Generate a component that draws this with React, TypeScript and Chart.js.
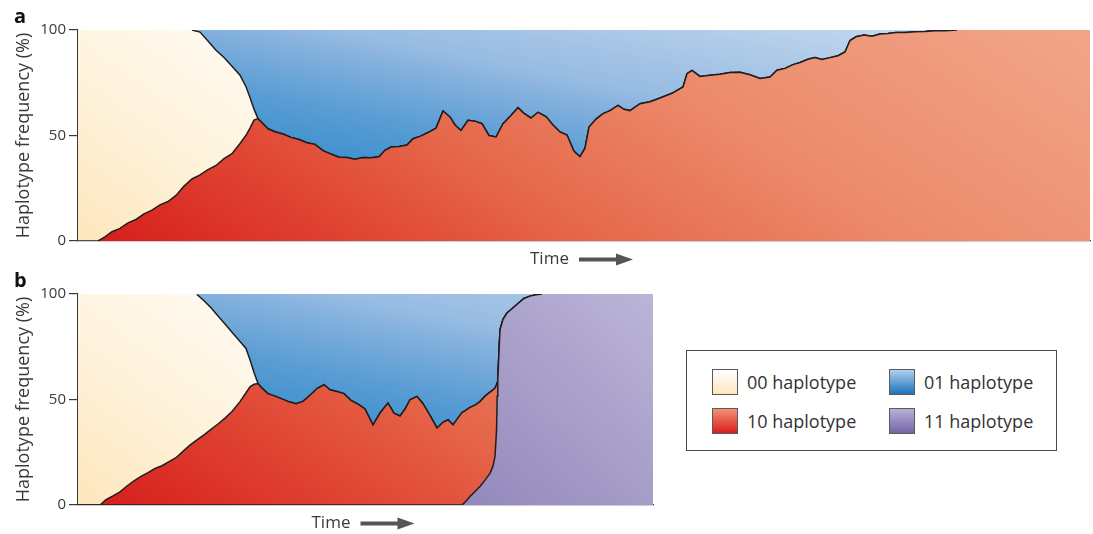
import React, { useEffect, useRef } from 'react';
import { Chart, registerables } from 'chart.js';

Chart.register(...registerables);

const FONT = "'Open Sans', 'DejaVu Sans', sans-serif";
const TEXT = '#3a3a3a';
const LINE = '#1e1e1e';
const AXIS = '#3a3a3a';

const yTicks = [0, 50, 100];
const yTitle = 'Haplotype frequency (%)';
const xTitle = 'Time';

// ---------- panel a ----------
const timeA = [
  0, 12, 20, 27, 34, 42, 50, 58, 66, 74,
  82, 90, 98, 106, 114, 122, 130, 138, 146, 154,
  162, 168, 172, 176, 180, 184, 190, 197, 205, 213,
  221, 229, 237, 245, 253, 261, 269, 277, 285, 293,
  301, 307, 313, 321, 329, 335, 342, 350, 358, 365,
  372, 377, 383, 390, 397, 404, 411, 418, 425, 432,
  440, 446, 453, 460, 468, 475, 482, 489, 496, 502,
  507, 511, 518, 525, 532, 540, 546, 552, 562, 572,
  582, 594, 605, 609, 614, 622, 632, 642, 652, 662,
  672, 682, 692, 699, 707, 715, 722, 730, 737, 744,
  752, 760, 767, 772, 778, 786, 794, 802, 810, 818,
  827, 837, 847, 857, 867, 879, 902, 932, 962, 1012,
];
const a10 = [
  0, 0, 0, 2.0, 4.4, 6.0, 8.6, 10.2, 12.9, 14.6,
  17.1, 18.7, 21.6, 26.0, 29.4, 31.3, 33.8, 35.8, 39.0, 41.4,
  46.2, 50.1, 53.5, 57.3, 58.0, 56.0, 53.2, 51.8, 50.7, 49.1,
  48.1, 46.6, 45.8, 42.8, 41.2, 39.7, 39.6, 38.8, 39.6, 39.4,
  39.9, 43.0, 44.5, 44.8, 45.5, 48.5, 49.6, 51.4, 53.5, 61.6,
  58.8, 55.0, 52.4, 57.2, 56.8, 55.6, 50.0, 49.3, 55.6, 59.0,
  63.2, 60.5, 58.3, 61.0, 59.0, 55.0, 51.7, 50.2, 42.5, 40.0,
  44.0, 54.0, 57.8, 60.4, 61.8, 64.3, 62.4, 61.8, 65.1, 66.0,
  67.8, 70.0, 73.0, 79.3, 80.9, 78.0, 78.6, 79.0, 79.8, 80.0,
  78.8, 77.0, 77.7, 80.9, 81.8, 83.6, 84.6, 86.1, 86.9, 86.0,
  86.9, 87.8, 89.6, 95.0, 96.8, 97.6, 97.1, 98.1, 98.3, 98.8,
  98.8, 99.2, 99.3, 99.7, 99.7, 100, 100, 100, 100, 100,
];
const a00 = [
  100, 100, 100, 98.0, 95.6, 94.0, 91.4, 89.8, 87.1, 85.4,
  82.9, 81.3, 78.4, 74.0, 70.6, 67.7, 61.0, 54.6, 48.0, 41.4,
  32.4, 23.0, 14.5, 5.2, 0, 0, 0, 0, 0, 0,
  0, 0, 0, 0, 0, 0, 0, 0, 0, 0,
  0, 0, 0, 0, 0, 0, 0, 0, 0, 0,
  0, 0, 0, 0, 0, 0, 0, 0, 0, 0,
  0, 0, 0, 0, 0, 0, 0, 0, 0, 0,
  0, 0, 0, 0, 0, 0, 0, 0, 0, 0,
  0, 0, 0, 0, 0, 0, 0, 0, 0, 0,
  0, 0, 0, 0, 0, 0, 0, 0, 0, 0,
  0, 0, 0, 0, 0, 0, 0, 0, 0, 0,
  0, 0, 0, 0, 0, 0, 0, 0, 0, 0,
];
const a01 = [
  0, 0, 0, 0, 0, 0, 0, 0, 0, 0,
  0, 0, 0, 0, 0, 1.0, 5.2, 9.6, 13.0, 17.2,
  21.4, 26.9, 32.0, 37.5, 42.0, 44.0, 46.8, 48.2, 49.3, 50.9,
  51.9, 53.4, 54.2, 57.2, 58.8, 60.3, 60.4, 61.2, 60.4, 60.6,
  60.1, 57.0, 55.5, 55.2, 54.5, 51.5, 50.4, 48.6, 46.5, 38.4,
  41.2, 45.0, 47.6, 42.8, 43.2, 44.4, 50.0, 50.7, 44.4, 41.0,
  36.8, 39.5, 41.7, 39.0, 41.0, 45.0, 48.3, 49.8, 57.5, 60.0,
  56.0, 46.0, 42.2, 39.6, 38.2, 35.7, 37.6, 38.2, 34.9, 34.0,
  32.2, 30.0, 27.0, 20.7, 19.1, 22.0, 21.4, 21.0, 20.2, 20.0,
  21.2, 23.0, 22.3, 19.1, 18.2, 16.4, 15.4, 13.9, 13.1, 14.0,
  13.1, 12.2, 10.4, 5.0, 3.2, 2.4, 2.9, 1.9, 1.7, 1.2,
  1.2, 0.8, 0.7, 0.3, 0.3, 0, 0, 0, 0, 0,
];

// ---------- panel b ----------
const timeB = [
  0, 12, 22, 28, 35, 42, 49, 56, 63, 70,
  77, 84, 91, 98, 105, 112, 119, 126, 133, 140,
  147, 154, 162, 168, 172, 176, 180, 184, 190, 197,
  204, 211, 218, 225, 232, 239, 246, 252, 259, 266,
  273, 280, 287, 295, 302, 310, 316, 322, 327, 332,
  339, 345, 352, 359, 365, 370, 375, 380, 384, 388,
  392, 397, 402, 407, 412, 415, 417, 418.5, 419.2, 419.8,
  420.5, 422, 425, 429, 434, 440, 446, 452, 458, 464,
  482, 522, 575,
];
const b11 = [
  0, 0, 0, 0, 0, 0, 0, 0, 0, 0,
  0, 0, 0, 0, 0, 0, 0, 0, 0, 0,
  0, 0, 0, 0, 0, 0, 0, 0, 0, 0,
  0, 0, 0, 0, 0, 0, 0, 0, 0, 0,
  0, 0, 0, 0, 0, 0, 0, 0, 0, 0,
  0, 0, 0, 0, 0, 0, 0, 0, 0, 1.8,
  4.0, 6.4, 8.8, 11.8, 15.0, 18.5, 23.0, 35.0, 51.5, 60.0,
  67, 83, 88, 91, 93, 95.5, 97.9, 99.0, 99.6, 100,
  100, 100, 100,
];
const b10 = [
  0, 0, 0, 2.5, 4.3, 6.2, 9.0, 11.4, 13.6, 15.3,
  17.3, 18.6, 20.6, 22.4, 25.4, 28.4, 30.9, 33.2, 35.8, 38.4,
  41.2, 44.3, 49.0, 53.2, 56.0, 57.2, 57.6, 55.4, 52.8, 51.6,
  50.3, 48.9, 48.0, 49.1, 52.0, 55.2, 57.0, 54.6, 53.8, 52.8,
  49.6, 47.8, 45.5, 38.0, 43.6, 48.3, 43.5, 42.2, 45.5, 49.9,
  51.5, 48.0, 42.5, 36.5, 39.2, 40.4, 38.0, 41.3, 43.8, 43.2,
  42.3, 40.9, 40.2, 39.8, 38.5, 36.1, 32.4, 22.0, 6.5, 0,
  0, 0, 0, 0, 0, 0, 0, 0, 0, 0,
  0, 0, 0,
];
const b00 = [
  100, 100, 100, 97.5, 95.7, 93.8, 91.0, 88.6, 86.4, 84.7,
  82.7, 81.4, 79.4, 77.6, 74.6, 71.6, 68.9, 63.6, 57.7, 51.2,
  44.6, 37.6, 28.5, 21.0, 12.8, 5.6, 0, 0, 0, 0,
  0, 0, 0, 0, 0, 0, 0, 0, 0, 0,
  0, 0, 0, 0, 0, 0, 0, 0, 0, 0,
  0, 0, 0, 0, 0, 0, 0, 0, 0, 0,
  0, 0, 0, 0, 0, 0, 0, 0, 0, 0,
  0, 0, 0, 0, 0, 0, 0, 0, 0, 0,
  0, 0, 0,
];
const b01 = [
  0, 0, 0, 0, 0, 0, 0, 0, 0, 0,
  0, 0, 0, 0, 0, 0, 0.2, 3.2, 6.5, 10.4,
  14.2, 18.1, 22.5, 25.8, 31.2, 37.2, 42.4, 44.6, 47.2, 48.4,
  49.7, 51.1, 52.0, 50.9, 48.0, 44.8, 43.0, 45.4, 46.2, 47.2,
  50.4, 52.2, 54.5, 62.0, 56.4, 51.7, 56.5, 57.8, 54.5, 50.1,
  48.5, 52.0, 57.5, 63.5, 60.8, 59.6, 62.0, 58.7, 56.2, 55.0,
  53.7, 52.7, 51.0, 48.4, 46.5, 45.4, 44.6, 43.0, 42.0, 40.0,
  33, 17, 12, 9, 7, 4.5, 2.1, 1.0, 0.4, 0,
  0, 0, 0,
];

const legendItems = [
  { label: '00 haplotype', swatch: 'linear-gradient(180deg, #ffffff 0%, #fde6bb 100%)' },
  { label: '10 haplotype', swatch: 'linear-gradient(180deg, #f29076 0%, #d81f1d 100%)' },
  { label: '01 haplotype', swatch: 'linear-gradient(180deg, #b0cdee 0%, #1c74ba 100%)' },
  { label: '11 haplotype', swatch: 'linear-gradient(180deg, #b9b0d7 0%, #7464a6 100%)' },
];

// ---------- gradients ----------
type Stops = [number, string][];
function gradient(x0: number, y0: number, x1: number, y1: number, stops: Stops) {
  return (ctx: any) => {
    const chart = ctx.chart;
    const ca = chart.chartArea;
    if (!ca) return stops[0][1];
    const g = chart.ctx.createLinearGradient(ca.left + x0, ca.bottom + y0, ca.left + x1, ca.bottom + y1);
    stops.forEach(([o, c]) => g.addColorStop(o, c));
    return g;
  };
}
const creamFill = gradient(0, 0, 150, -211, [[0, '#fde6bc'], [0.5, '#fef2da'], [1, '#fffaf1']]);
const redFill = gradient(0, 0, 400, -600, [
  [0, '#d51c1c'], [0.1, '#db2e25'], [0.25, '#e14a36'], [0.4, '#e6684b'], [0.64, '#ec8a6b'], [0.8, '#ef9678'], [1, '#f1a487'],
]);
const blueFill = gradient(252, -71, 312, -371, [
  [0, '#3a8ecc'], [0.2, '#5a9dd4'], [0.4, '#8ab4df'], [0.45, '#97bce2'], [0.6, '#a8c6e7'], [0.8, '#c0d6ee'], [1, '#cfe0f2'],
]);
const purpleFill = gradient(380, 0, 575, -211, [[0, '#9387bb'], [1, '#bcb5d8']]);

const edgeColor = (ctx: any) => {
  const top = ctx.chart.chartArea.top;
  return ctx.p0.y <= top + 0.6 && ctx.p1.y <= top + 0.6 ? 'rgba(0,0,0,0)' : LINE;
};

function series(label: string, time: number[], values: number[], fill: any, bg: any, edge: boolean) {
  return {
    label,
    data: time.map((t, i) => ({ x: t, y: values[i] })),
    fill,
    backgroundColor: bg,
    borderColor: LINE,
    borderWidth: edge ? 1.5 : 0,
    pointRadius: 0,
    pointHoverRadius: 0,
    tension: 0,
    segment: { borderColor: edgeColor },
  };
}

function decor(panel: string, labelY: number) {
  return {
    id: 'decor' + panel,
    afterDraw(chart: any) {
      const { ctx, chartArea: ca } = chart;
      ctx.save();
      ctx.fillStyle = '#111';
      ctx.font = `bold 20px ${FONT}`;
      ctx.textBaseline = 'alphabetic';
      ctx.textAlign = 'left';
      ctx.fillText(panel, 14, labelY);
      const cx = (ca.left + ca.right) / 2;
      const ty = ca.bottom + 18.5;
      ctx.font = `17px ${FONT}`;
      ctx.fillStyle = TEXT;
      ctx.textBaseline = 'middle';
      ctx.fillText(xTitle, cx - 54, ty);
      ctx.fillStyle = '#555';
      ctx.fillRect(cx - 5, ty - 2, 40, 4);
      ctx.beginPath();
      ctx.moveTo(cx + 32, ty - 6);
      ctx.lineTo(cx + 49, ty);
      ctx.lineTo(cx + 32, ty + 6);
      ctx.closePath();
      ctx.fill();
      ctx.restore();
    },
  };
}

function makeOptions(xMax: number, padding: any) {
  return {
    responsive: false,
    animation: false as const,
    events: [],
    layout: { padding },
    plugins: { legend: { display: false }, tooltip: { enabled: false } },
    scales: {
      x: {
        type: 'linear' as const,
        min: 0,
        max: xMax,
        ticks: { display: false },
        grid: { display: true, drawOnChartArea: false, drawTicks: false },
        border: { display: true, color: AXIS, width: 1.2 },
      },
      y: {
        stacked: true,
        min: 0,
        max: 100,
        afterBuildTicks: (s: any) => {
          s.ticks = yTicks.map((v) => ({ value: v }));
        },
        afterFit: (s: any) => {
          s.width = 78;
        },
        ticks: { color: TEXT, font: { family: FONT, size: 15 }, padding: 3 },
        grid: { drawOnChartArea: false, tickLength: 9, color: AXIS, lineWidth: 1.2 },
        border: { color: AXIS, width: 1.2 },
        title: {
          display: true,
          text: yTitle,
          color: TEXT,
          font: { family: FONT, size: 18 },
          padding: { top: 13, bottom: 0 },
        },
      },
    },
  };
}

export default function App() {
  const refA = useRef<HTMLCanvasElement>(null);
  const refB = useRef<HTMLCanvasElement>(null);

  useEffect(() => {
    const chartA = new Chart(refA.current!, {
      type: 'line',
      data: {
        datasets: [
          series('10 haplotype', timeA, a10, 'origin', redFill, true),
          series('00 haplotype', timeA, a00, '-1', creamFill, true),
          series('01 haplotype', timeA, a01, '-1', blueFill, false),
        ],
      },
      options: makeOptions(1012, { top: 30, right: 3, bottom: 29, left: 0 }),
      plugins: [decor('a', 23)],
    } as any);
    const chartB = new Chart(refB.current!, {
      type: 'line',
      data: {
        datasets: [
          series('11 haplotype', timeB, b11, 'origin', purpleFill, true),
          series('10 haplotype', timeB, b10, '-1', redFill, true),
          series('00 haplotype', timeB, b00, '-1', creamFill, true),
          series('01 haplotype', timeB, b01, '-1', blueFill, false),
        ],
      },
      options: makeOptions(575, { top: 24, right: 7, bottom: 29, left: 0 }),
      plugins: [decor('b', 17)],
    } as any);
    return () => {
      chartA.destroy();
      chartB.destroy();
    };
  }, []);

  const swatchPos = [
    { x: 712, y: 369 },
    { x: 712, y: 408 },
    { x: 889, y: 369 },
    { x: 889, y: 408 },
  ];

  return (
    <div style={{ position: 'fixed', left: 0, top: 0, width: 1093, height: 534, background: '#fff', fontFamily: FONT }}>
      <canvas ref={refA} width={1093} height={270} style={{ position: 'absolute', left: 0, top: 0 }} />
      <canvas ref={refB} width={660} height={264} style={{ position: 'absolute', left: 0, top: 270 }} />
      <div
        style={{
          position: 'absolute',
          left: 686,
          top: 350,
          width: 371,
          height: 101,
          boxSizing: 'border-box',
          border: '1px solid #4a4a4a',
        }}
      />
      {legendItems.map((it, i) => (
        <React.Fragment key={it.label}>
          <div
            style={{
              position: 'absolute',
              left: swatchPos[i].x,
              top: swatchPos[i].y,
              width: 26,
              height: 26,
              boxSizing: 'border-box',
              border: '1px solid #5a5a5a',
              background: it.swatch,
            }}
          />
          <div
            style={{
              position: 'absolute',
              left: swatchPos[i].x + 35,
              top: swatchPos[i].y,
              height: 26,
              lineHeight: '26px',
              fontSize: 18,
              color: '#333',
              whiteSpace: 'nowrap',
            }}
          >
            {it.label}
          </div>
        </React.Fragment>
      ))}
    </div>
  );
}
